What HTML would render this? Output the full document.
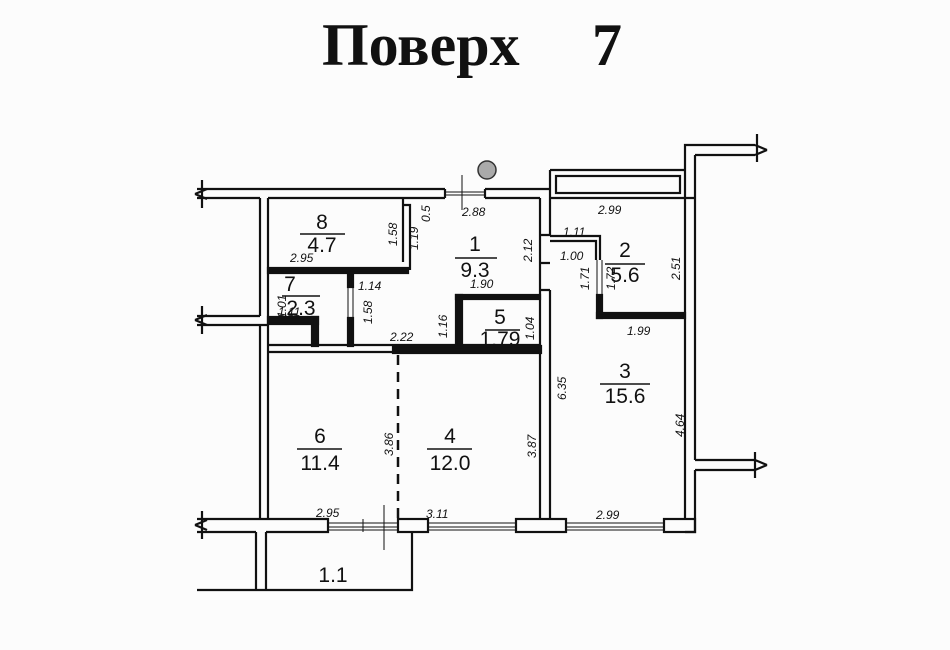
<!DOCTYPE html>
<html><head><meta charset="utf-8"><style>
html,body{margin:0;padding:0;background:#fcfcfc;}
svg{display:block}
text{font-family:"Liberation Sans",sans-serif;fill:#111}
.d{font-size:12px;font-style:italic}
.n{font-size:21px}
</style></head><body>
<svg width="950" height="650" viewBox="0 0 950 650" xmlns="http://www.w3.org/2000/svg">
<rect width="950" height="650" fill="#fcfcfc"/>
<text x="322" y="65" style="font-family:'Liberation Serif',serif;font-weight:bold;font-size:60px">Поверх</text>
<text x="592" y="65" style="font-family:'Liberation Serif',serif;font-weight:bold;font-size:60px">7</text>

<g fill="none" stroke="#111" stroke-width="2.2">
<path d="M197 189 H445 M197 198 H260 M268 198 H445 M445 189 V198 M485 189 V198 M485 189 H550 M485 198 H540"/>
<line x1="445" y1="192" x2="485" y2="192" stroke-width="1"/>
<line x1="445" y1="195" x2="485" y2="195" stroke-width="1"/>
<line x1="462" y1="175" x2="462" y2="210" stroke-width="1"/>
<path d="M260 198 V316 M260 325 V519 M268 198 V519"/>
<path d="M403 198 V262 M403 205 H410 V270"/>
<rect x="268" y="268" width="140" height="5" fill="#111"/>
<rect x="268" y="317" width="50" height="7" fill="#111"/>
<rect x="312" y="317" width="6" height="29" fill="#111"/>
<rect x="348" y="273" width="5" height="14" fill="#111"/>
<rect x="348" y="318" width="5" height="28" fill="#111"/>
<line x1="348" y1="287" x2="348" y2="318" stroke-width="1"/>
<line x1="353" y1="287" x2="353" y2="318" stroke-width="1"/>
<path d="M268 345 H540 M268 352 H393"/>
<rect x="393" y="346" width="148" height="7" fill="#111"/>
<rect x="456" y="295" width="6" height="52" fill="#111"/>
<rect x="456" y="295" width="84" height="4" fill="#111"/>
<path d="M540 198 V285 M550 198 V235 M540 285 V519 M550 290 V519 M540 290 H550 M540 263 H550 M540 235 H550"/>
<path d="M550 170 H685 V145 H755 M695 155 H755 M695 155 V460 M685 170 V519 M550 170 V198 M550 198 H695"/>
<rect x="556" y="176" width="124" height="17"/>
<path d="M550 236 H600 V260 M550 241 H596 V260"/>
<rect x="597" y="295" width="5" height="23" fill="#111"/>
<rect x="597" y="313" width="88" height="5" fill="#111"/>
<line x1="597" y1="260" x2="597" y2="295" stroke-width="1"/>
<line x1="602" y1="260" x2="602" y2="295" stroke-width="1"/>
<path d="M695 460 H755 M695 470 H755 M695 470 V532 H685"/>
<path d="M197 519 H328 V532 H266 M197 532 H256"/>
<rect x="398" y="519" width="30" height="13"/>
<rect x="516" y="519" width="50" height="13"/>
<rect x="664" y="519" width="31" height="13"/>
<g stroke-width="1">
<path d="M328 523 H398 M328 527 H398 M328 530 H398 M428 523 H516 M428 527 H516 M428 530 H516 M566 523 H664 M566 527 H664 M566 530 H664"/>
<line x1="363" y1="519" x2="363" y2="532"/>
<line x1="384" y1="505" x2="384" y2="550"/>
</g>
<path d="M256 532 V590 M266 532 V590 M197 590 H412 V532"/>
<line x1="398" y1="355" x2="398" y2="519" stroke-dasharray="10 7" stroke-width="2.5"/>
<path d="M195 194 l12 -5 M195 194 l12 5 M202 180 V208 M195 320 l12 -5 M195 320 l12 5 M202 306 V334 M195 525 l12 -5 M195 525 l12 5 M202 511 V539 M767 150 l-12 -5 M767 150 l-12 5 M757 134 V162 M767 465 l-12 -5 M767 465 l-12 5 M755 452 V478"/>
<path d="M197 316 H260 M197 325 H268"/>
</g>
<circle cx="487" cy="170" r="9" fill="#aaa" stroke="#333" stroke-width="1.5"/>

<g class="n" text-anchor="middle">
<text x="322" y="229">8</text><text x="322" y="252">4.7</text>
<text x="475" y="251">1</text><text x="475" y="277">9.3</text>
<text x="290" y="291">7</text><text x="301" y="315">2.3</text>
<text x="500" y="324">5</text><text x="500" y="346">1.79</text>
<text x="625" y="257">2</text><text x="625" y="282">5.6</text>
<text x="625" y="378">3</text><text x="625" y="403">15.6</text>
<text x="320" y="443">6</text><text x="320" y="470">11.4</text>
<text x="450" y="443">4</text><text x="450" y="470">12.0</text>
<text x="333" y="582">1.1</text>
</g>
<g stroke="#111" stroke-width="1.5">
<line x1="300" y1="234" x2="345" y2="234"/><line x1="455" y1="258" x2="497" y2="258"/>
<line x1="282" y1="296" x2="320" y2="296"/><line x1="485" y1="330" x2="520" y2="330"/>
<line x1="605" y1="264" x2="645" y2="264"/><line x1="600" y1="384" x2="650" y2="384"/>
<line x1="297" y1="449" x2="342" y2="449"/><line x1="427" y1="449" x2="472" y2="449"/>
</g>
<g class="d">
<text x="462" y="216">2.88</text>
<text x="290" y="262">2.95</text>
<text x="358" y="290">1.14</text>
<text x="470" y="288">1.90</text>
<text x="278" y="316">1.11</text>
<text x="390" y="341">2.22</text>
<text x="598" y="214">2.99</text>
<text x="563" y="236">1.11</text>
<text x="560" y="260">1.00</text>
<text x="627" y="335">1.99</text>
<text x="316" y="517">2.95</text>
<text x="426" y="518">3.11</text>
<text x="596" y="519">2.99</text>
</g>
<g class="d">
<text transform="translate(397,246) rotate(-90)">1.58</text>
<text transform="translate(418,250) rotate(-90)">1.19</text>
<text transform="translate(430,222) rotate(-90)">0.5</text>
<text transform="translate(532,262) rotate(-90)">2.12</text>
<text transform="translate(286,318) rotate(-90)">1.01</text>
<text transform="translate(372,324) rotate(-90)">1.58</text>
<text transform="translate(447,338) rotate(-90)">1.16</text>
<text transform="translate(534,340) rotate(-90)">1.04</text>
<text transform="translate(589,290) rotate(-90)">1.71</text>
<text transform="translate(615,290) rotate(-90)">1.72</text>
<text transform="translate(680,280) rotate(-90)">2.51</text>
<text transform="translate(566,400) rotate(-90)">6.35</text>
<text transform="translate(684,437) rotate(-90)">4.64</text>
<text transform="translate(393,456) rotate(-90)">3.86</text>
<text transform="translate(536,458) rotate(-90)">3.87</text>
</g>
</svg>
</body></html>
